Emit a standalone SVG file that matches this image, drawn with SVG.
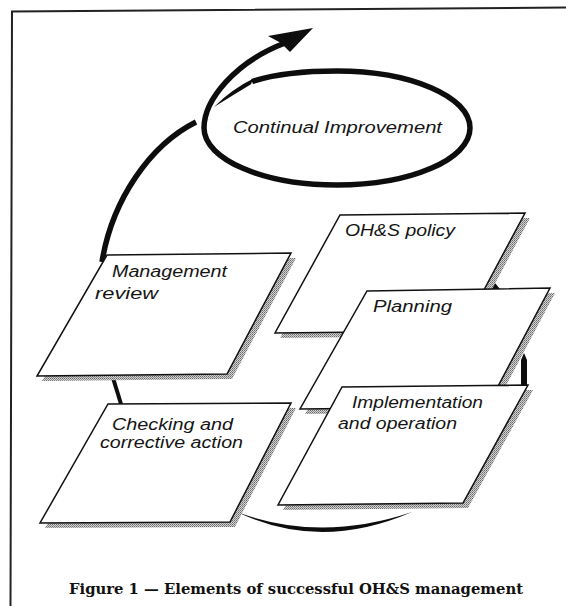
<svg xmlns="http://www.w3.org/2000/svg" width="566" height="606" viewBox="0 0 566 606">
<defs>
<pattern id="dots" width="2" height="2" patternUnits="userSpaceOnUse">
<rect width="2" height="2" fill="#d2d2d2"/>
<rect width="1" height="1" fill="#6a6a6a"/>
<rect x="1" y="1" width="1" height="1" fill="#8c8c8c"/>
</pattern>
<style>
.box{fill:#fff;stroke:#111;stroke-width:1.5;stroke-linejoin:miter}
.shadow{fill:url(#dots)}
.lbl{font-family:"Liberation Sans",Arial,sans-serif;font-style:italic;font-size:16px;fill:#141414}
.conn{fill:none;stroke:#0d0d0d;stroke-width:5.5}
.solid{fill:#0d0d0d}
.cap{font-family:"DejaVu Serif","Liberation Serif",serif;font-weight:bold;font-size:14.5px;fill:#111}
</style>
</defs>
<rect width="566" height="606" fill="#fff"/>
<path d="M10.5,606 L12,11.5 L566,7.5" fill="none" stroke="#222" stroke-width="2"/>

<g id="connectors">
<path class="conn" d="M102,262 C112,200 150,145 196,122"/>
<path class="conn" d="M204,128 C204,100 235,62 285,43"/>
<polygon class="solid" points="313,28 268,36 281,43 290,52"/>
<line x1="113" y1="378" x2="121" y2="404" stroke="#0d0d0d" stroke-width="4"/>
<path class="solid" d="M237,512 Q320,552 412,512 Q320,543 237,512 Z"/>
<polygon class="solid" points="491,289 495,283 500,289"/>
<path class="solid" d="M521,387 L521,360 L524,353 L527,360 L527,387 Z"/>
</g>

<g id="continual-improvement">
<path class="conn" d="M252,81.5 C275,74 305,71 337,71 C410.5,71 470,96.5 470,128 C470,159.5 410.5,185 337,185 C263.5,185 204,159.5 204,128"/>
<path class="solid" d="M214,107 Q232,89 253,78.8 L251,84.2 Q233,95 214,107 Z"/>
<text class="lbl" x="233" y="133" textLength="209" lengthAdjust="spacingAndGlyphs">Continual Improvement</text>
</g>

<g id="ohs-policy">
<polygon class="shadow" points="345,220 530,218 467,336 280,338"/>
<polygon class="box" points="340,215 525,213 462,331 275,333"/>
<text class="lbl" x="345" y="236" textLength="110" lengthAdjust="spacingAndGlyphs">OH&amp;S policy</text>
</g>

<g id="planning">
<polygon class="shadow" points="372,296 555,293 492,412 305,414"/>
<polygon class="box" points="367,291 550,288 487,407 300,409"/>
<text class="lbl" x="373" y="312" textLength="79" lengthAdjust="spacingAndGlyphs">Planning</text>
</g>

<g id="implementation">
<polygon class="shadow" points="347,392 533,390 468,508 283,510"/>
<polygon class="box" points="342,387 528,385 463,503 278,505"/>
<text class="lbl" x="352" y="408" textLength="131" lengthAdjust="spacingAndGlyphs">Implementation</text>
<text class="lbl" x="338" y="429" textLength="119" lengthAdjust="spacingAndGlyphs">and operation</text>
</g>

<g id="management-review">
<polygon class="shadow" points="112,260 296,258 232,379 42,381"/>
<polygon class="box" points="107,255 291,253 227,374 37,376"/>
<text class="lbl" x="112" y="277" textLength="115" lengthAdjust="spacingAndGlyphs">Management</text>
<text class="lbl" x="95" y="299" textLength="63" lengthAdjust="spacingAndGlyphs">review</text>
</g>

<g id="checking">
<polygon class="shadow" points="113,409 296,408 235,527 45,528"/>
<polygon class="box" points="108,404 291,403 230,522 40,523"/>
<text class="lbl" x="112" y="430" textLength="121" lengthAdjust="spacingAndGlyphs">Checking and</text>
<text class="lbl" x="100" y="448" textLength="143" lengthAdjust="spacingAndGlyphs">corrective action</text>
</g>

<text class="cap" x="69" y="594" textLength="454" lengthAdjust="spacingAndGlyphs">Figure 1 — Elements of successful OH&amp;S management</text>
</svg>
